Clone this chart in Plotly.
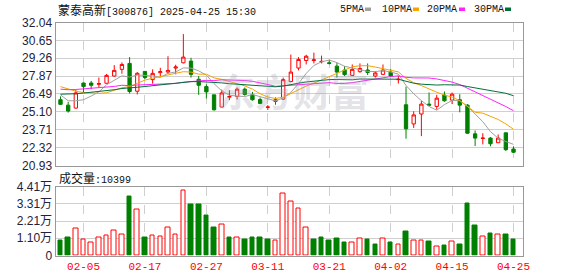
import plotly.graph_objects as go

dates = ["01-23", "01-24", "01-27", "02-05", "02-06", "02-07", "02-10", "02-11", "02-12", "02-13",
         "02-14", "02-17", "02-18", "02-19", "02-20", "02-21", "02-24", "02-25", "02-26", "02-27",
         "02-28", "03-03", "03-04", "03-05", "03-06", "03-07", "03-10", "03-11", "03-12", "03-13",
         "03-14", "03-17", "03-18", "03-19", "03-20", "03-21", "03-24", "03-25", "03-26", "03-27",
         "03-28", "03-31", "04-01", "04-02", "04-03", "04-07", "04-08", "04-09", "04-10", "04-11",
         "04-14", "04-15", "04-16", "04-17", "04-18", "04-21", "04-22", "04-23", "04-24", "04-25"]

opens = [26.04, 25.62, 25.39, 27.34, 27.34, 27.24, 27.32, 27.88, 28.40, 28.86,
         26.70, 28.24, 27.60, 28.14, 28.19, 28.50, 28.91, 29.04, 27.63, 27.06,
         26.42, 25.47, 26.24, 26.29, 26.86, 26.42, 26.06, 25.45, 25.91, 26.09,
         27.45, 28.50, 29.09, 29.09, 28.99, 28.91, 28.65, 28.35, 27.93, 28.22,
         28.35, 27.88, 28.01, 28.19, 27.60, 25.65, 24.16, 24.93, 25.70, 25.52,
         26.40, 26.01, 26.04, 25.62, 23.39, 23.03, 23.06, 22.70, 23.47, 22.21]
highs = [26.30, 25.88, 26.80, 27.36, 27.50, 27.76, 28.04, 28.73, 28.94, 29.35,
         28.19, 28.26, 28.40, 28.52, 29.42, 28.76, 31.14, 29.30, 27.88, 27.24,
         26.42, 26.83, 26.78, 26.99, 26.99, 26.65, 26.22, 25.62, 26.22, 27.76,
         29.55, 29.35, 29.53, 29.70, 29.47, 29.14, 28.91, 28.65, 28.78, 28.86,
         28.86, 28.27, 28.78, 28.45, 27.88, 27.06, 25.14, 25.96, 26.60, 26.42,
         26.68, 26.60, 26.47, 25.70, 23.65, 23.44, 23.14, 23.34, 23.47, 22.42]
lows = [25.65, 25.04, 25.35, 26.60, 26.86, 26.98, 27.30, 27.83, 28.06, 26.52,
        26.45, 27.65, 27.29, 27.88, 28.06, 28.01, 28.86, 27.76, 26.42, 26.14,
        25.19, 25.45, 26.01, 26.06, 26.35, 25.96, 25.70, 25.24, 25.65, 26.04,
        27.40, 28.32, 28.78, 28.86, 28.86, 28.78, 27.76, 27.88, 27.88, 28.14,
        27.96, 27.76, 27.96, 27.81, 27.29, 23.01, 23.85, 23.21, 25.60, 25.27,
        25.88, 25.70, 25.06, 23.37, 22.44, 22.57, 22.42, 22.68, 22.06, 21.90]
closes = [25.68, 25.16, 26.57, 27.06, 27.16, 27.29, 27.93, 28.32, 28.78, 26.68,
          28.09, 27.76, 28.09, 28.22, 28.32, 28.58, 29.35, 28.01, 27.16, 26.65,
          25.26, 26.57, 26.29, 26.86, 26.45, 26.04, 25.75, 25.47, 26.04, 27.60,
          28.19, 29.17, 29.42, 29.14, 29.02, 28.86, 28.19, 27.99, 28.40, 28.47,
          28.16, 28.12, 28.35, 27.88, 27.63, 23.78, 24.86, 25.70, 25.62, 26.16,
          25.96, 26.47, 25.62, 23.44, 23.06, 23.06, 22.62, 23.06, 22.16, 21.96]

volumes = [9296, 11675, 17296, 10161, 8215, 11459, 12756, 16000, 13400, 37620,
           29620, 11460, 12756, 12107, 17945, 13400, 41300, 32650, 32650, 25300,
           18160, 19890, 11675, 11460, 10378, 11675, 11675, 10378, 9513, 39560,
           34800, 30270, 17945, 10378, 11675, 9729, 11026, 8432, 8432, 10810,
           10378, 7135, 10810, 8432, 6918, 15566, 9513, 9513, 9080, 5621,
           6486, 8864, 7135, 33079, 19458, 12107, 14269, 13404, 13620, 10399]
# 1 = up day (red hollow bar), 0 = down day (green bar)
vol_up = [0, 0, 1, 1, 1, 1, 1, 1, 1, 0,
          1, 0, 1, 1, 1, 1, 1, 0, 0, 0,
          0, 1, 0, 1, 0, 0, 0, 0, 1, 1,
          1, 1, 1, 0, 0, 0, 0, 0, 1, 1,
          0, 0, 1, 0, 1, 0, 1, 1, 0, 1,
          0, 1, 0, 0, 0, 1, 0, 1, 0, 0]

# estimated closes before the visible window (needed for moving averages)
prior_closes = [25.20, 25.40, 25.50, 25.60, 25.70, 25.80, 25.90, 25.90, 25.95, 25.95,
                26.00, 26.20, 26.30, 26.50, 26.60, 26.70, 26.90, 27.00, 27.20, 27.20,
                27.16, 28.17, 28.06, 27.66, 27.45, 27.46, 26.57, 26.66, 25.73]

x_tick_labels = ["02-05", "02-17", "02-27", "03-11", "03-21", "04-02", "04-15", "04-25"]
price_tick_labels = ["20.93", "22.32", "23.71", "25.10", "26.49", "27.87", "29.26", "30.65", "32.04"]
vol_tick_values = [0, 11025, 22050, 33075, 44100]
vol_tick_labels = ["0", "1.10万", "2.21万", "3.31万", "4.41万"]
ma_periods = [5, 10, 20, 30]
ma_names = ["5PMA", "10PMA", "20PMA", "30PMA"]
ma_colors = ["#a0a0a0", "#f5a300", "#ff22ff", "#00703a"]

title_name = "蒙泰高新"
title_rest = "[300876] 2025-04-25 15:30"
vol_title = "成交量"
watermark = "东方财富"

RED = "#ff0000"
GREEN = "#008000"

full = prior_closes + closes
P = len(prior_closes)


def moving_average(n):
    return [sum(full[k - n + 1:k + 1]) / n for k in range(P, len(full))]


fig = go.Figure()

fig.add_trace(go.Candlestick(
    x=dates, open=opens, high=highs, low=lows, close=closes,
    increasing=dict(line=dict(color=RED, width=1), fillcolor="#ffffff"),
    decreasing=dict(line=dict(color=GREEN, width=1), fillcolor=GREEN),
    whiskerwidth=0, xaxis="x", yaxis="y", showlegend=False, hoverinfo="skip"))

for n, c in zip(ma_periods, ma_colors):
    fig.add_trace(go.Scatter(x=dates, y=moving_average(n), mode="lines",
                             line=dict(color=c, width=1), xaxis="x", yaxis="y",
                             showlegend=False, hoverinfo="skip"))

fig.add_trace(go.Bar(
    x=dates, y=volumes, width=0.6,
    marker=dict(color=["#ffffff" if u else GREEN for u in vol_up],
                line=dict(color=[RED if u else GREEN for u in vol_up], width=1)),
    xaxis="x2", yaxis="y2", showlegend=False, hoverinfo="skip"))

W, H = 578, 276
xdom = [55.5 / W, 522.5 / W]
xrange = [-0.65, len(dates) - 1 + 1.17]
axis_font = dict(family="Liberation Sans, Arial", size=12, color="#1e2240")
common_x = dict(domain=xdom, type="category", range=xrange, showgrid=True,
                gridcolor="#cfcfcf", griddash="dash", gridwidth=1,
                tickvals=x_tick_labels, showline=True, mirror=True,
                linecolor="#999999", linewidth=1, ticks="", zeroline=False,
                automargin=False, fixedrange=True)

fig.update_layout(
    width=W, height=H, margin=dict(l=0, r=0, t=0, b=0),
    paper_bgcolor="#ffffff", plot_bgcolor="#ffffff", template="none",
    showlegend=False, bargap=0, boxgap=0.38,
    xaxis=dict(common_x, anchor="y", showticklabels=False, rangeslider=dict(visible=False)),
    xaxis2=dict(common_x, anchor="y2", showticklabels=True, ticktext=x_tick_labels,
                tickfont=dict(family="Liberation Mono, DejaVu Sans Mono", size=11, color=RED)),
    yaxis=dict(domain=[1 - 165.5 / H, 1 - 22.5 / H],
               range=[float(price_tick_labels[0]), float(price_tick_labels[-1])],
               tickvals=[float(t) for t in price_tick_labels], ticktext=price_tick_labels,
               showgrid=True, gridcolor="#cfcfcf", gridwidth=1, showline=True, mirror=True,
               linecolor="#999999", linewidth=1, ticks="", zeroline=False,
               tickfont=axis_font, automargin=False, fixedrange=True),
    yaxis2=dict(domain=[1 - 255.5 / H, 1 - 186.5 / H], range=[0, vol_tick_values[-1]],
                tickvals=vol_tick_values, ticktext=vol_tick_labels,
                showgrid=True, gridcolor="#cfcfcf", gridwidth=1, showline=True, mirror=True,
                linecolor="#999999", linewidth=1, ticks="", zeroline=False,
                tickfont=dict(family="Liberation Sans, Noto Sans CJK SC", size=12, color="#1e2240"),
                automargin=False, fixedrange=True),
)

annotations = []
shapes = []
annotations.append(dict(
    xref="paper", yref="paper", x=56 / W, y=1 - 9.5 / H, xanchor="left", yanchor="middle",
    text=(f"<span style='font-family:Noto Sans CJK SC;font-size:12px'>{title_name}</span>"
          f"<span style='font-family:Liberation Mono;font-size:10px'>{title_rest}</span>"),
    showarrow=False, font=dict(color="#111111", size=12)))

legend_x = [338, 380, 425, 472]
marker_x = [365, 413, 459, 505]
for lx, mx, name, c in zip(legend_x, marker_x, ma_names, ma_colors):
    annotations.append(dict(
        xref="paper", yref="paper", x=lx / W, y=1 - 9.5 / H, xanchor="left", yanchor="middle",
        text=name, showarrow=False,
        font=dict(family="Liberation Mono, DejaVu Sans Mono", size=10, color="#111111")))
    shapes.append(dict(type="rect", xref="paper", yref="paper",
                       x0=mx / W, x1=(mx + 6) / W, y0=1 - 11 / H, y1=1 - 7.5 / H,
                       fillcolor=c, line=dict(width=0)))

annotations.append(dict(
    xref="paper", yref="paper", x=57 / W, y=1 - 177 / H, xanchor="left", yanchor="middle",
    text=(f"<span style='font-family:Noto Sans CJK SC;font-size:12px'>{vol_title}</span>"
          f"<span style='font-family:Liberation Mono;font-size:10px'>:{volumes[-1]}</span>"),
    showarrow=False, font=dict(color="#111111", size=12)))

annotations.append(dict(
    xref="paper", yref="paper", x=293 / W, y=1 - 89 / H, xanchor="center", yanchor="middle",
    text=f"<b>{watermark}</b>", showarrow=False,
    font=dict(family="Noto Sans CJK SC", size=38, color="rgba(160,160,175,0.3)")))

fig.update_layout(annotations=annotations, shapes=shapes)

fig.write_html("out.html")
